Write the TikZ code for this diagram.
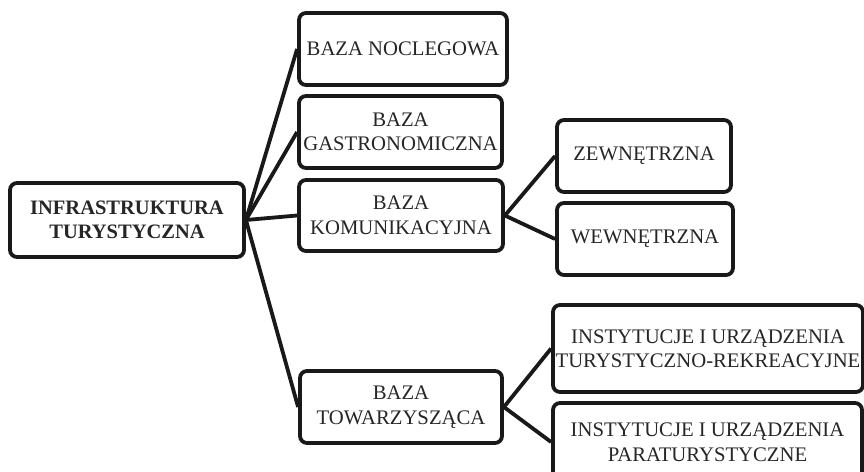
\documentclass[tikz,border=0pt]{standalone}
\usepackage{fontspec}
\setmainfont{Liberation Serif}
\begin{document}
\begin{tikzpicture}[x=1pt,y=1pt,
  box/.style={draw=black!90, line width=3.8pt, rounded corners=7pt, fill=white,
    align=center, inner sep=2pt, font=\fontsize{20.7}{24.5}\selectfont, text=black!85},
  link/.style={draw=black!90, line width=3.8pt}]
\useasboundingbox (0,0) rectangle (864,-471);
\node[box, minimum width=234pt, minimum height=74pt, font=\fontsize{20.5}{24.5}\selectfont\bfseries] (root) at (127,-220) {INFRASTRUKTURA\\TURYSTYCZNA};
\node[box, minimum width=208pt, minimum height=72pt] (nocleg) at (403,-49) {BAZA NOCLEGOWA};
\node[box, minimum width=203pt, minimum height=72pt] (gastro) at (400.5,-132) {BAZA\\GASTRONOMICZNA};
\node[box, minimum width=204pt, minimum height=71pt] (komun) at (401,-215.5) {BAZA\\KOMUNIKACYJNA};
\node[box, minimum width=174pt, minimum height=72pt] (zewn) at (644,-156) {ZEWNĘTRZNA};
\node[box, minimum width=176pt, minimum height=72pt] (wewn) at (645,-239) {WEWNĘTRZNA};
\node[box, minimum width=202pt, minimum height=72pt] (towar) at (401,-407) {BAZA\\TOWARZYSZĄCA};
\node[box, minimum width=310pt, minimum height=87pt] (inst1) at (708,-348.5) {INSTYTUCJE I URZĄDZENIA\\TURYSTYCZNO-REKREACYJNE};
\node[box, minimum width=309pt, minimum height=78pt] (inst2) at (707.5,-442) {INSTYTUCJE I URZĄDZENIA\\PARATURYSTYCZNE};
\draw[link] (root.east) -- (nocleg.west);
\draw[link] (root.east) -- (gastro.west);
\draw[link] (root.east) -- (komun.west);
\draw[link] (root.east) -- (towar.west);
\draw[link] (komun.east) -- (zewn.west);
\draw[link] (komun.east) -- (wewn.west);
\draw[link] (towar.east) -- (inst1.west);
\draw[link] (towar.east) -- (inst2.west);
\end{tikzpicture}
\end{document}
